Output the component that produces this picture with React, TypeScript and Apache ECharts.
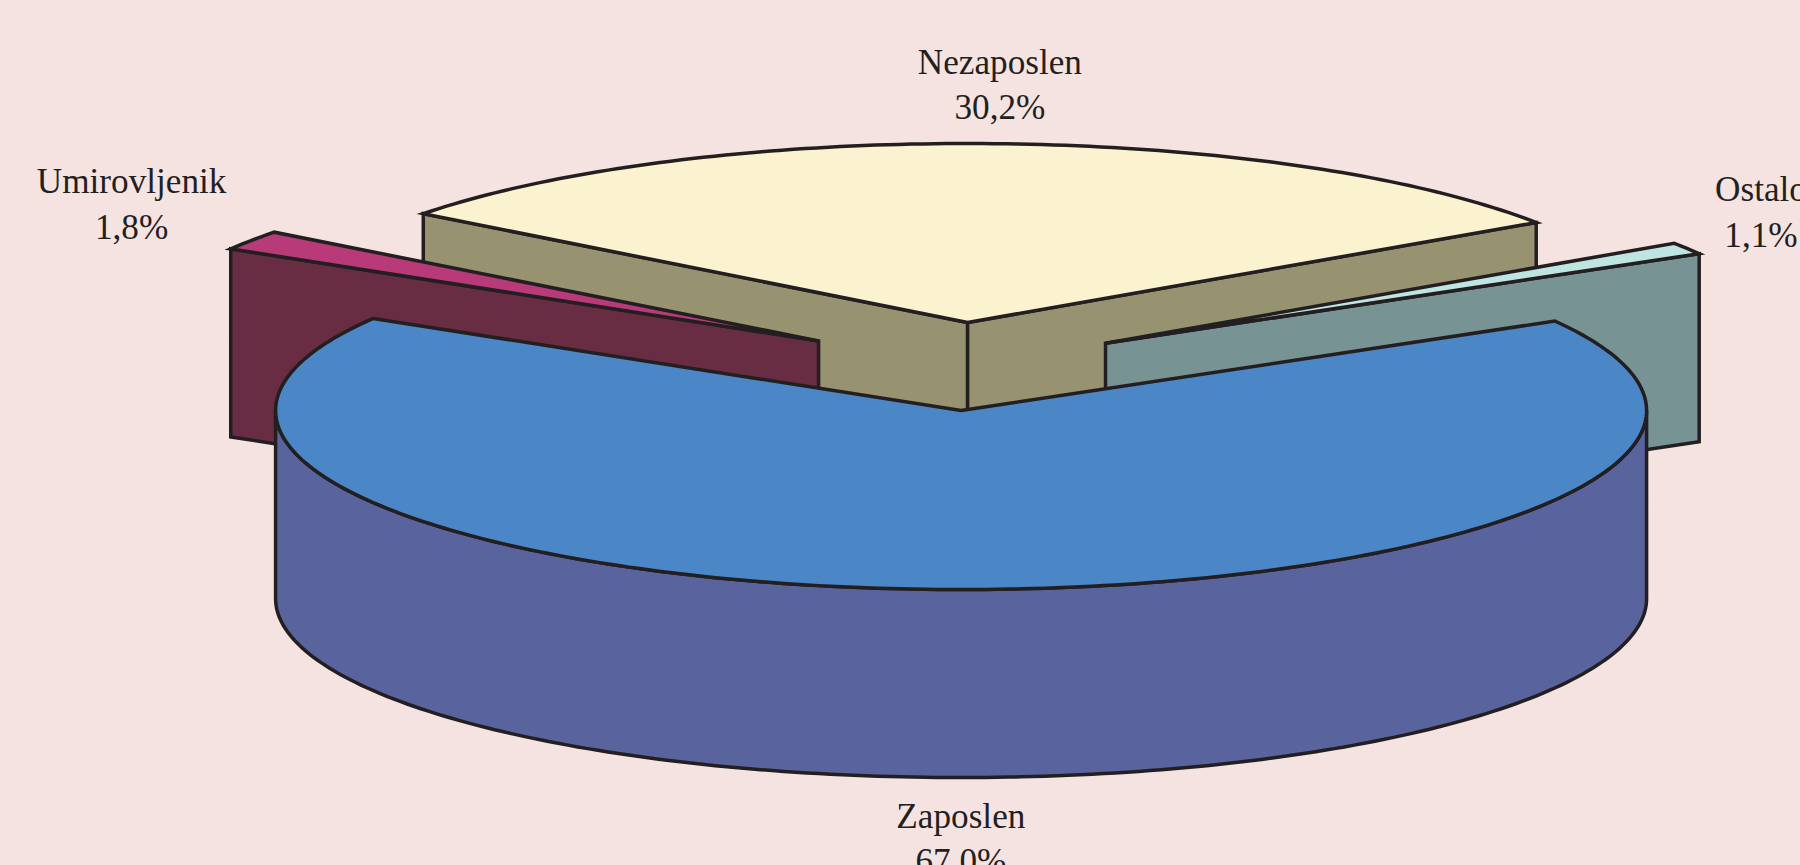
import React, { useEffect, useRef } from "react";
import * as echarts from "echarts";

// Clockwise from the first slice's start angle
const categories = ["Zaposlen", "Umirovljenik", "Nezaposlen", "Ostalo"];
const shares = [67.0, 1.8, 30.2, 1.1];
const topColors = ["#4b86c6", "#b83a78", "#fbf3cf", "#bfe5e2"];
const wallColors = ["#59639d", "#682c43", "#979270", "#789394"];
const explodes = [168.6, 174, 168.6, 168.6];
const labelShiftX = [5.5, -120, 11.5, 74];
const labelShiftY = [209, -76, -99, -76];

const START_ANGLE = 60;
const CX = 962.5;
const CY = 366.5;
const RX = 685.5;
const RY = 179;
const DEPTH = 188;
const STROKE = "#231f20";
const BG = "#f5e3e1";
const FONT = "'Liberation Serif', 'Times New Roman', serif";
const FONT_SIZE = 35.2;
const LINE_GAP = 45.5;

const total = shares.reduce((a, b) => a + b, 0);
const rad = (d: number) => (d * Math.PI) / 180;

function rim(ax: number, ay: number, deg: number): [number, number] {
  return [ax + RX * Math.sin(rad(deg)), ay - RY * Math.cos(rad(deg))];
}

function renderItem(params: any) {
  const i = params.dataIndex;
  let a = START_ANGLE;
  for (let k = 0; k < i; k++) a += (shares[k] / total) * 360;
  const b = a + (shares[i] / total) * 360;
  const mid = (a + b) / 2;
  const ax = CX + explodes[i] * Math.sin(rad(mid));
  const ay = CY - explodes[i] * (RY / RX) * Math.cos(rad(mid));
  const z = Math.round(-Math.cos(rad(mid)) * 100) + 200;

  const lineStyle = {
    stroke: STROKE,
    lineWidth: 3.5,
    lineJoin: "miter",
    miterLimit: 10,
  };
  const children: any[] = [];
  const poly = (points: number[][], fill: string, zz: number) =>
    children.push({
      type: "polygon",
      shape: { points },
      z2: zz,
      style: { fill, ...lineStyle },
    });

  const face = (deg: number) => {
    const p = rim(ax, ay, deg);
    poly(
      [
        [ax, ay],
        p,
        [p[0], p[1] + DEPTH],
        [ax, ay + DEPTH],
      ],
      wallColors[i],
      z
    );
  };
  if (Math.sin(rad(a)) < 0) face(a);
  if (Math.sin(rad(b)) > 0) face(b);

  // Outer wall: only the part of the arc on the viewer's side
  const fa = Math.max(a, 90);
  const fb = Math.min(b, 270);
  if (fb > fa) {
    const upper: number[][] = [];
    const lower: number[][] = [];
    for (let t = fa; t <= fb + 1e-6; t += 1) {
      const p = rim(ax, ay, t);
      upper.push(p);
      lower.unshift([p[0], p[1] + DEPTH]);
    }
    poly([...upper, ...lower], wallColors[i], z + 1);
  }

  // Top face
  const top: number[][] = [[ax, ay]];
  const steps = Math.max(2, Math.ceil(b - a));
  for (let s = 0; s <= steps; s++) top.push(rim(ax, ay, a + ((b - a) * s) / steps));
  poly(top, topColors[i], z + 2);

  // Label, placed from the slice's outer rim at its mid angle
  const r = rim(ax, ay, mid);
  const lx = r[0] + labelShiftX[i];
  const ly = r[1] + labelShiftY[i];
  const lines = [categories[i], shares[i].toFixed(1).replace(".", ",") + "%"];
  lines.forEach((text, n) =>
    children.push({
      type: "text",
      z2: 1000,
      style: {
        text,
        x: lx,
        y: ly + n * LINE_GAP,
        textAlign: "center",
        fill: STROKE,
        font: `${FONT_SIZE}px ${FONT}`,
      },
    })
  );

  return { type: "group", children };
}

export default function App() {
  const ref = useRef<HTMLDivElement>(null);
  useEffect(() => {
    document.body.style.margin = "0";
    document.body.style.overflow = "hidden";
    document.body.style.background = BG;
    const chart = echarts.init(ref.current!, undefined, { renderer: "svg" });
    chart.setOption({
      animation: false,
      backgroundColor: BG,
      series: [
        {
          type: "custom",
          coordinateSystem: "none",
          renderItem,
          silent: true,
          data: categories.map((name, i) => ({ name, value: [shares[i]] })),
        },
      ],
    });
    return () => chart.dispose();
  }, []);
  return <div ref={ref} style={{ width: 1800, height: 865 }} />;
}
